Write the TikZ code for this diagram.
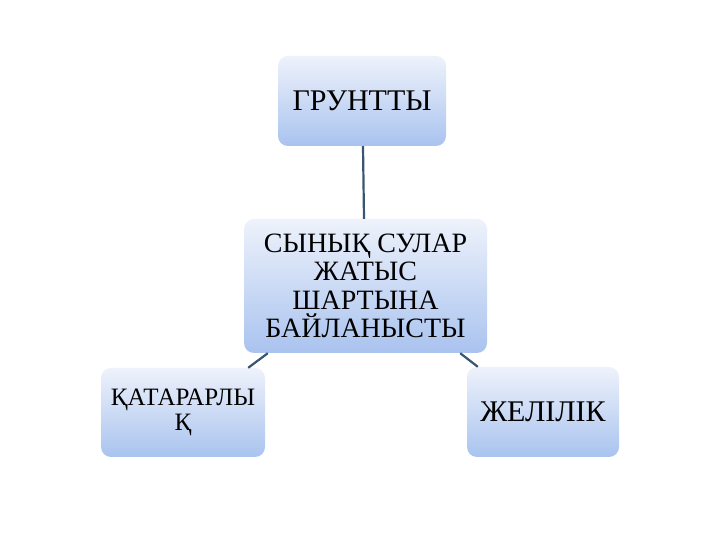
\documentclass[tikz,border=0pt]{standalone}
\usepackage{fontspec}
\setmainfont{Liberation Serif}
\begin{document}
\begin{tikzpicture}[x=1pt,y=1pt,
  box/.style={rounded corners=10pt, top color=boxtop, bottom color=boxbot,
    draw=none, inner sep=0pt, align=center, font=\fontsize{30}{28.5}\selectfont},
  link/.style={draw=linkc, line width=2.2pt}]
\definecolor{boxtop}{HTML}{EEF2FB}
\definecolor{boxbot}{HTML}{A9C3EF}
\definecolor{linkc}{HTML}{3A5572}
\useasboundingbox (0,0) rectangle (720,540);
\fill[white] (0,0) rectangle (720,540);
\node[box, minimum width=168pt, minimum height=90pt] (top) at (362,439) {ГРУНТТЫ};
\node[box, minimum width=243pt, minimum height=134pt, font=\fontsize{28}{28.5}\selectfont] (mid) at (365.5,254) {СЫНЫҚ СУЛАР\\ЖАТЫС\\ШАРТЫНА\\БАЙЛАНЫСТЫ};
\node[box, minimum width=164pt, minimum height=89pt, text width=164pt, font=\fontsize{25}{25}\selectfont] (left) at (183,127.5) {ҚАТАРАРЛЫ\\Қ};
\node[box, minimum width=152pt, minimum height=90pt] (right) at (543,128) {ЖЕЛІЛІК};
\draw[link] ([xshift=1pt]top.south) -- ([xshift=-1.5pt]mid.north);
\draw[link] ([xshift=24pt]mid.south west) -- ([xshift=-17pt]left.north east);
\draw[link] ([xshift=-27pt]mid.south east) -- ([xshift=11pt]right.north west);
\end{tikzpicture}
\end{document}
